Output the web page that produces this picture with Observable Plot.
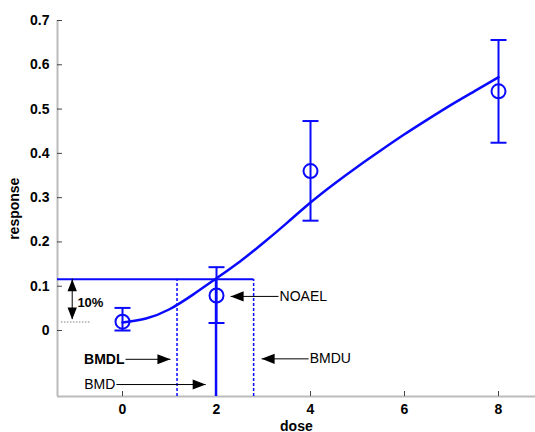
<!DOCTYPE html>
<html><head><meta charset="utf-8">
<script src="https://cdn.jsdelivr.net/npm/d3@7"></script>
<script src="https://cdn.jsdelivr.net/npm/@observablehq/plot@0.6"></script>
<style>body{margin:0;background:#fff} svg{display:block}</style>
</head><body><div id="chart"></div>
<script>
// observed data
const doses = [0, 2, 4, 8];
const means = [0.02, 0.079, 0.36, 0.54];
const lower = [0.0, 0.017, 0.248, 0.424];
const upper = [0.051, 0.143, 0.473, 0.656];
// fitted curve
const fitDose = [0, 0.5, 1, 1.5, 2, 2.5, 3, 3.5, 4, 4.5, 5, 5.5, 6, 6.5, 7, 7.5, 8];
const fitResp = [0.018, 0.027, 0.048, 0.081, 0.118, 0.156, 0.198, 0.243, 0.289, 0.331, 0.370, 0.407, 0.443, 0.477, 0.510, 0.541, 0.572];
// benchmark values
const bmr = 0.116;
const background = 0.019;
const bmd = 1.99, bmdl = 1.16, bmdu = 2.79;
// ticks
const xTicks = [0, 2, 4, 6, 8];
const yTicks = [0, 0.1, 0.2, 0.3, 0.4, 0.5, 0.6, 0.7];
const yTickLabels = ["0", "0.1", "0.2", "0.3", "0.4", "0.5", "0.6", "0.7"];
// annotations
const annLabels = ["BMDL", "BMD", "NOAEL", "BMDU"];
const annTextX = [0.064, -0.13, 3.32, 3.96];
const annY = [-0.065, -0.122, 0.077, -0.064];
const annTipX = [1.02, 1.77, 2.30, 2.96];
const annBold = [true, false, false, false];
const pctLabel = "10%";

const xDomain = [-1.383, 8.787];
const yDomain = [-0.149, 0.7];
const blue = "#0a0aff";

const obs = doses.map((d, i) => ({dose: d, mean: means[i], lo: lower[i], hi: upper[i]}));
const fit = fitDose.map((d, i) => ({dose: d, resp: fitResp[i]}));
const ann = annLabels.map((l, i) => ({label: l, tx: annTextX[i], y: annY[i], tip: annTipX[i], bold: annBold[i],
  dir: annTipX[i] > annTextX[i] ? 0 : 180}));

const capSymbol = {draw(ctx, size) { const r = Math.sqrt(size / Math.PI); ctx.moveTo(-r, 0); ctx.lineTo(r, 0); }};
const headSymbol = {draw(ctx, size) { const r = Math.sqrt(size / Math.PI); ctx.moveTo(0, 0); ctx.lineTo(-2 * r, -0.78 * r); ctx.lineTo(-2 * r, 0.78 * r); ctx.closePath(); }};

const font = "'Liberation Sans', Arial, sans-serif";
const chart = Plot.plot({
  width: 535, height: 432,
  marginLeft: 57, marginRight: 0, marginTop: 20, marginBottom: 36,
  style: {fontFamily: font, fontSize: "14px", color: "#000", background: "#fff"},
  x: {domain: xDomain},
  y: {domain: yDomain},
  marks: [
    // axis lines
    Plot.ruleX([xDomain[0]], {stroke: "#bbb", strokeWidth: 2}),
    Plot.ruleY([yDomain[0]], {stroke: "#bbb", strokeWidth: 2}),
    Plot.axisY(yTicks, {tickSize: -5, tickPadding: 13, tickFormat: (d, i) => yTickLabels[i], fontWeight: "bold", fontSize: 14, stroke: "#444", label: null}),
    Plot.axisX(xTicks, {tickSize: -5, tickPadding: 13, fontWeight: "bold", fontSize: 14, stroke: "#444", label: null}),
    Plot.text(["response"], {x: xDomain[0], y: 0.275, dx: -43, rotate: -90, fontWeight: "bold", fontSize: 14}),
    Plot.text(["dose"], {frameAnchor: "bottom", x: 3.7, dy: 34, fontWeight: "bold", fontSize: 14}),
    // background dotted line
    Plot.ruleY([background], {x1: -1.30, x2: -0.66, stroke: "#aaa", strokeDasharray: "1.5,1.5", strokeWidth: 1.5}),
    // BMR line
    Plot.ruleY([bmr], {x1: xDomain[0], x2: bmdu, stroke: blue, strokeWidth: 2}),
    Plot.ruleX([bmdl, bmdu], {y1: yDomain[0], y2: bmr, stroke: blue, strokeWidth: 1.5, strokeDasharray: "3,2"}),
    Plot.ruleX([bmd], {y1: yDomain[0], y2: bmr, stroke: blue, strokeWidth: 2.5}),
    // 10% arrow
    Plot.ruleX([-1.07], {y1: background + 0.006, y2: bmr, stroke: "#000", strokeWidth: 1}),
    Plot.dot([bmr], {x: -1.07, y: d => d, symbol: headSymbol, r: 6, rotate: -90, fill: "#000", stroke: null}),
    Plot.dot([background + 0.006], {x: -1.07, y: d => d, symbol: headSymbol, r: 6, rotate: 90, fill: "#000", stroke: null}),
    Plot.text([pctLabel], {x: -0.96, y: 0.063, textAnchor: "start", fontWeight: "bold", fontSize: 13}),
    // fitted curve
    Plot.line(fit, {x: "dose", y: "resp", stroke: blue, strokeWidth: 2.5, curve: "natural"}),
    // error bars
    Plot.ruleX(obs, {x: "dose", y1: "lo", y2: "hi", stroke: blue, strokeWidth: 2}),
    Plot.dot(obs, {x: "dose", y: "lo", symbol: capSymbol, r: 8, stroke: blue, strokeWidth: 2}),
    Plot.dot(obs, {x: "dose", y: "hi", symbol: capSymbol, r: 8, stroke: blue, strokeWidth: 2}),
    Plot.dot(obs, {x: "dose", y: "mean", r: 7, stroke: blue, strokeWidth: 2, fill: "none"}),
    // annotation arrows
    Plot.link(ann, {x1: "tx", x2: "tip", y1: "y", y2: "y", stroke: "#000", strokeWidth: 1}),
    Plot.dot(ann, {x: "tip", y: "y", symbol: headSymbol, r: 6.5, rotate: "dir", fill: "#000", stroke: null}),
    Plot.text(ann.filter(d => d.bold), {x: "tx", y: "y", text: "label", textAnchor: "end", fontWeight: "bold", fontSize: 14, dx: -1}),
    Plot.text(ann.filter(d => !d.bold && d.dir === 0), {x: "tx", y: "y", text: "label", textAnchor: "end", fontSize: 14, dx: -1}),
    Plot.text(ann.filter(d => d.dir === 180), {x: "tx", y: "y", text: "label", textAnchor: "start", fontSize: 14, dx: 1})
  ]
});
document.getElementById("chart").appendChild(chart);
</script>
</body></html>
